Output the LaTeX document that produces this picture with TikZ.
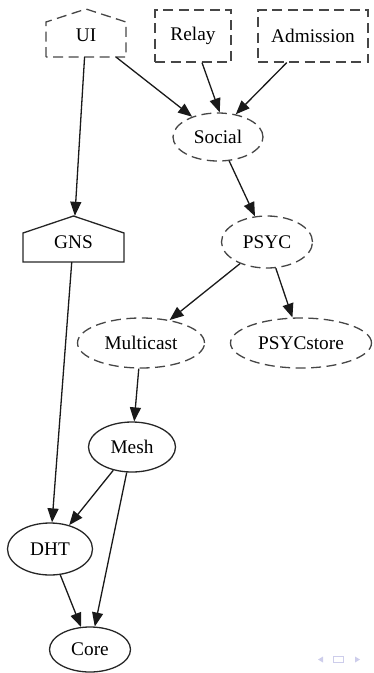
\documentclass[tikz,border=0pt]{standalone}
\usepackage{fontspec}
\setmainfont{Liberation Serif}
\usetikzlibrary{arrows.meta,shapes.geometric}
\definecolor{dashgray}{RGB}{70,70,70}
\definecolor{navcol}{RGB}{205,205,235}
\begin{document}
\begin{tikzpicture}[x=1pt,y=-1pt,
  every node/.style={font=\fontsize{19.3}{22}\selectfont, inner sep=0pt},
  dashedline/.style={draw=dashgray, line width=1.3pt, dash pattern=on 10pt off 5.5pt},
  solidline/.style={draw=black!85, line width=1.3pt},
  edge/.style={draw=black!90, line width=1.3pt, -{Triangle[length=14pt,width=11pt]}},
  navsym/.style={fill=navcol, draw=none}
]
\useasboundingbox (0,0) rectangle (373,673);
% UI (house, dashed)
\draw[dashedline] (46,57) -- (46,22) -- (86,9) -- (126,22) -- (126,57) -- cycle;
\node[minimum width=80pt, minimum height=47pt] (ui) at (86,33.5) {};
\node at (86,35) {UI};
% Relay
\node[dashedline, minimum width=76pt, minimum height=52pt] (relay) at (193,36) {Relay};
% Admission
\node[dashedline, minimum width=110pt, minimum height=52pt] (admission) at (313,36) {Admission};
% Social
\node[dashedline, ellipse, minimum width=90pt, minimum height=48pt] (social) at (218,137) {Social};
% GNS (house, solid)
\draw[solidline] (23,262) -- (23,233) -- (73.5,216) -- (124,233) -- (124,262) -- cycle;
\node[minimum width=101pt, minimum height=46pt] (gns) at (73.5,239) {};
\node at (73.5,242) {GNS};
% PSYC
\node[dashedline, ellipse, minimum width=91pt, minimum height=52pt] (psyc) at (267,242) {PSYC};
% Multicast
\node[dashedline, ellipse, minimum width=127pt, minimum height=50pt] (multicast) at (141,343) {Multicast};
% PSYCstore
\node[dashedline, ellipse, minimum width=141pt, minimum height=50pt] (psycstore) at (301,343) {PSYCstore};
% Mesh
\node[solidline, ellipse, minimum width=87pt, minimum height=50pt] (mesh) at (132,447) {Mesh};
% DHT
\node[solidline, ellipse, minimum width=85pt, minimum height=52pt] (dht) at (50,549) {DHT};
% Core
\node[solidline, ellipse, minimum width=81pt, minimum height=45pt] (core) at (90,649.5) {Core};
% Edges
\draw[edge] (ui) -- (social);
\draw[edge] (ui) -- (gns);
\draw[edge] (relay.south)++(9,0) coordinate (rs) (rs) -- (social.86);
\draw[edge] (admission) -- (social.52);
\draw[edge] (social) -- (psyc);
\draw[edge] (psyc) -- (multicast);
\draw[edge] (psyc) -- (psycstore);
\draw[edge] (gns) -- (dht);
\draw[edge] (multicast) -- (mesh);
\draw[edge] (mesh) -- (dht);
\draw[edge] (mesh) -- (core);
\draw[edge] (dht) -- (core);
% navigation symbols
\fill[navsym] (318,659.5) -- (323,656.5) -- (323,662.5) -- cycle;
\draw[navcol, line width=1pt] (333.5,656) rectangle (343.5,662.5);
\fill[navsym] (360,659.5) -- (355,656.5) -- (355,662.5) -- cycle;
\end{tikzpicture}
\end{document}
